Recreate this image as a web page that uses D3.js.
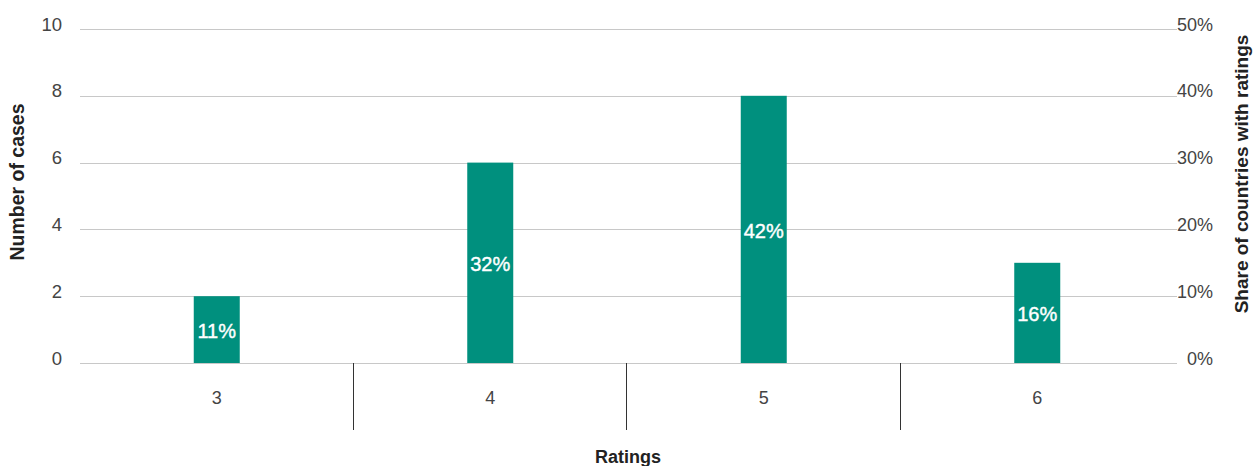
<!DOCTYPE html>
<html><head><meta charset="utf-8">
<script src="https://cdn.jsdelivr.net/npm/d3@7"></script>
<style>body{margin:0;background:#fff}svg{display:block}text{font-family:"Liberation Sans",Arial,sans-serif}</style>
</head><body><svg id="c" width="1256" height="466"></svg>
<script>
const categories = ["3","4","5","6"];
const cases = [2,6,8,3];
const shares = ["11%","32%","42%","16%"];
const leftTicks = [0,2,4,6,8,10];
const rightTicks = [0,0.1,0.2,0.3,0.4,0.5];

const svg = d3.select("#c");
const x = d3.scaleBand().domain(categories).range([80,1174]);
const y = d3.scaleLinear().domain([0,10]).range([363,29]);
const y2 = d3.scaleLinear().domain([0,0.5]).range([363,29]);
const FF = "'Liberation Sans',Arial,sans-serif";

// gridlines
svg.append("g").selectAll("line").data(leftTicks).join("line")
  .attr("x1",80).attr("x2",1177).attr("y1",d=>Math.round(y(d))+0.5).attr("y2",d=>Math.round(y(d))+0.5)
  .attr("stroke","#c8c8c8").attr("stroke-width",1);

// left axis
const la = svg.append("g").attr("transform","translate(62,0)")
  .call(d3.axisLeft(y).tickValues(leftTicks).tickSize(0).tickPadding(0));
la.select(".domain").remove();
la.selectAll("text").attr("font-size",18.5).attr("fill","#444").attr("dy",0).attr("y",1)
  .style("font-family",FF);

// right axis
const ra = svg.append("g").attr("transform","translate(1213,0)")
  .call(d3.axisLeft(y2).tickValues(rightTicks).tickSize(0).tickPadding(0).tickFormat(d3.format(".0%")));
ra.select(".domain").remove();
ra.selectAll("text").attr("font-size",18).attr("fill","#444").attr("dy",0).attr("y",1)
  .style("font-family",FF);

// bars
const bw = 46;
svg.append("g").selectAll("rect").data(categories).join("rect")
  .attr("x",(d)=>x(d)+x.bandwidth()/2-bw/2).attr("width",bw)
  .attr("y",(d,i)=>y(cases[i])).attr("height",(d,i)=>y(0)-y(cases[i]))
  .attr("fill","#00907e");

// bar labels
svg.append("g").selectAll("text").data(categories).join("text")
  .attr("x",d=>x(d)+x.bandwidth()/2)
  .attr("y",(d,i)=>(y(cases[i])+y(0))/2+8.5)
  .attr("text-anchor","middle")
  .attr("font-size",20).attr("fill","#fff").attr("stroke","#fff").attr("stroke-width",0.4)
  .text((d,i)=>shares[i]);

// bottom axis
const ba = svg.append("g").attr("transform","translate(0,363)")
  .call(d3.axisBottom(x).tickSize(0).tickPadding(0));
ba.select(".domain").remove();
ba.selectAll("text").attr("font-size",18).attr("fill","#444").attr("dy",0).attr("y",41)
  .style("font-family",FF);

// separators
svg.append("g").selectAll("line").data(categories.slice(1)).join("line")
  .attr("x1",d=>Math.round(x(d))-0.5).attr("x2",d=>Math.round(x(d))-0.5)
  .attr("y1",363).attr("y2",430).attr("stroke","#333").attr("stroke-width",1);

// titles
svg.append("text").attr("x",628).attr("y",463).attr("text-anchor","middle")
  .attr("font-size",18).attr("font-weight","bold").attr("fill","#222").text("Ratings");
svg.append("text").attr("transform","translate(24,182) rotate(-90)").attr("text-anchor","middle")
  .attr("font-size",19.5).attr("font-weight","bold").attr("fill","#222").text("Number of cases");
svg.append("text").attr("transform","translate(1248,174) rotate(-90)").attr("text-anchor","middle")
  .attr("font-size",19).attr("font-weight","bold").attr("fill","#222").text("Share of countries with ratings");
</script></body></html>
